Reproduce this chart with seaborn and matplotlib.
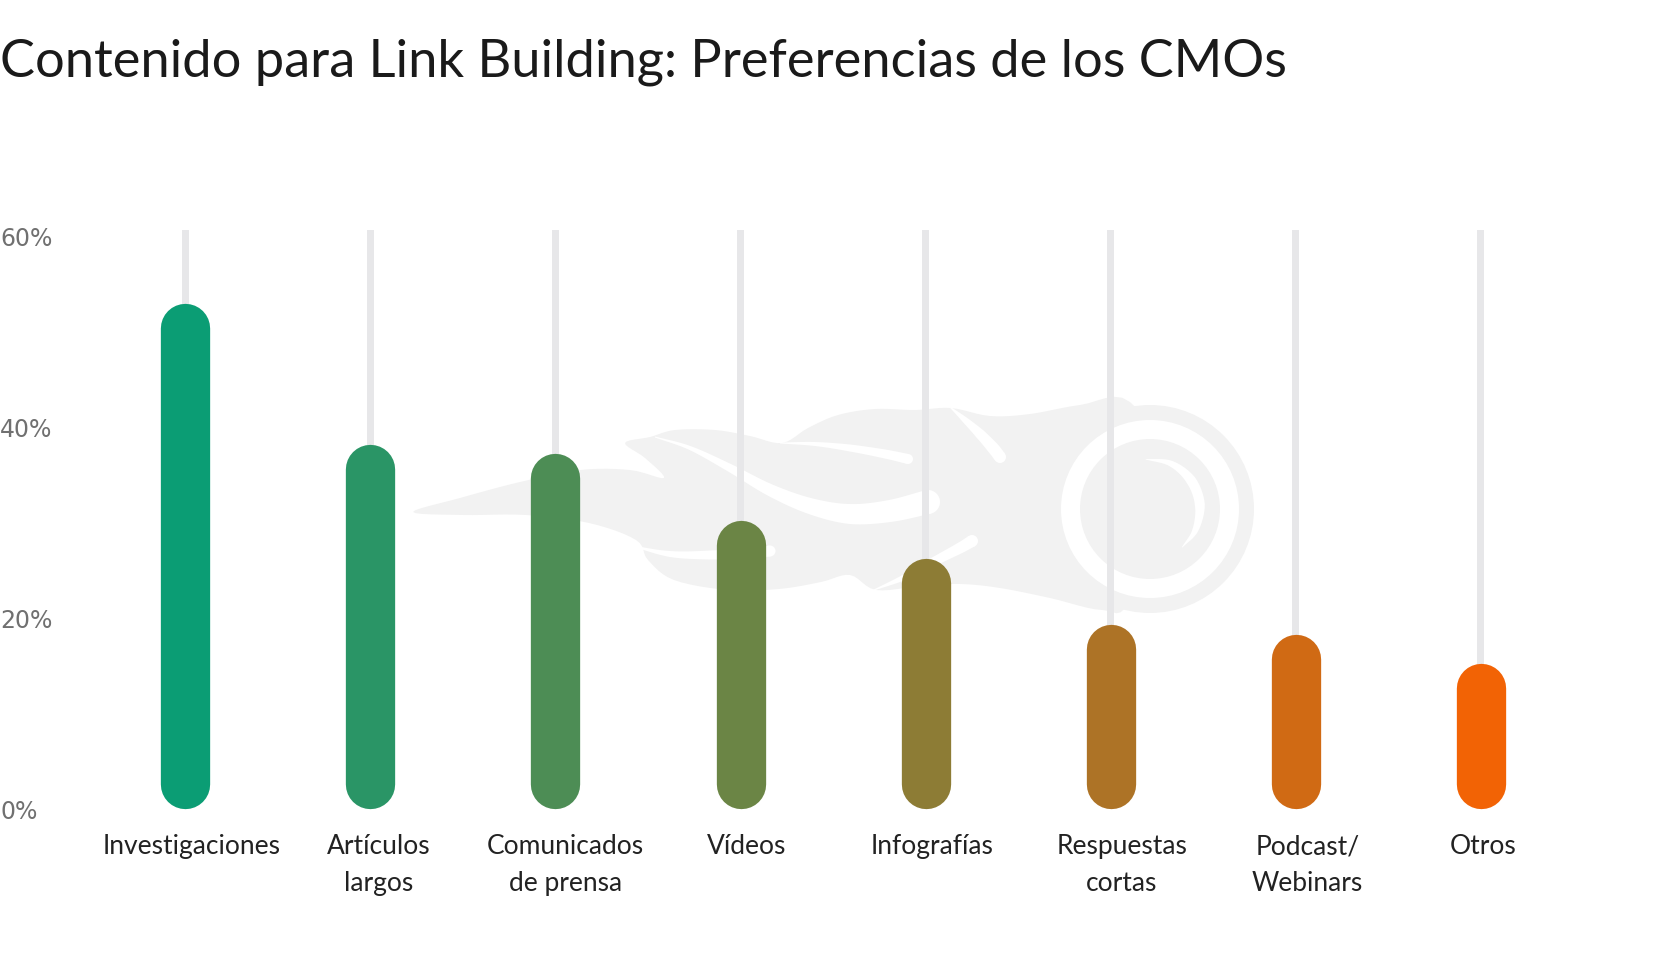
import numpy as np
import pandas as pd
import matplotlib
matplotlib.use("Agg")
import matplotlib.pyplot as plt
import matplotlib.transforms as mtransforms
from matplotlib.patches import Polygon, Circle
import seaborn as sns

# ---------------- data ----------------
categories = ["Investigaciones", "Artículos\nlargos", "Comunicados\nde prensa", "Vídeos",
              "Infografías", "Respuestas\ncortas", "Podcast/\nWebinars", "Otros"]
values = [53, 38.2, 37.2, 30.2, 26.2, 19.3, 18.3, 15.3]
colors = ["#0b9d74", "#2a9566", "#4d8d55", "#6b8545", "#8d7c35", "#ad7326", "#d06a14", "#f26305"]
track_top = [60.6] * len(categories)
yticks = [0, 20, 40, 60]
ytick_labels = ["0%", "20%", "40%", "60%"]
title = "Contenido para Link Building: Preferencias de los CMOs"

# small horizontal nudges of the category labels (pixels), layout only
label_dx = [6, 8, 10, 6, 6, 11, 12, 2]

# ---------------- style ----------------
sns.set_theme(style="white")
plt.rcParams["font.family"] = ["Lato", "DejaVu Sans"]

W, H = 1680, 960
fig = plt.figure(figsize=(W / 100, H / 100), dpi=100)
fig.patch.set_facecolor("white")
ax = fig.add_axes([0, 151 / H, 1, 609 / H])
ax.set_facecolor("white")

df = pd.DataFrame({"cat": categories, "val": values, "track": track_top})

# thin grey tracks
sns.barplot(data=df, x="cat", y="track", color="#e7e7e9", width=0.035, saturation=1,
            linewidth=0, ax=ax, zorder=1)
n_track = len(ax.patches)
# value bars (converted to capsules below)
sns.barplot(data=df, x="cat", y="val", hue="cat", palette=colors, width=0.27, saturation=1,
            linewidth=0, legend=False, ax=ax, zorder=2)

ax.set_xlim(-1.002, 8.077)
ax.set_ylim(0, 63.77)

px_per_y = fig.dpi * fig.get_figheight() * ax.get_position().height / (63.77 - 0)
bar_px = 49.3
r = (bar_px / 2) / px_per_y
for p in ax.patches[n_track:]:
    cx = p.get_x() + p.get_width() / 2
    h = p.get_height()
    fc = p.get_facecolor()
    p.set_visible(False)
    ax.plot([cx, cx], [r, h - r], color=fc, lw=bar_px * 72 / 100,
            solid_capstyle="round", zorder=3, clip_on=False)

# ---------------- watermark logo (decorative) ----------------
pxT = mtransforms.Affine2D().scale(1 / W, -1 / H).translate(0, 1) + fig.transFigure
LOGO = "#f2f2f2"


def cr_closed(points, n=6):
    P = np.asarray(points, float)
    m = len(P)
    out = []
    for i in range(m):
        p0, p1, p2, p3 = P[i - 1], P[i], P[(i + 1) % m], P[(i + 2) % m]
        for t in np.linspace(0, 1, n, endpoint=False):
            out.append(0.5 * (2 * p1 + (-p0 + p2) * t + (2 * p0 - 5 * p1 + 4 * p2 - p3) * t * t
                              + (-p0 + 3 * p1 - 3 * p2 + p3) * t ** 3))
    return np.array(out)


def cr_open(points, half, n=8):
    P = np.asarray(points, float)
    hw = np.asarray(half, float)
    P2 = np.vstack([2 * P[0] - P[1], P, 2 * P[-1] - P[-2]])
    pts, hws = [], []
    for i in range(1, len(P2) - 2):
        p0, p1, p2, p3 = P2[i - 1], P2[i], P2[i + 1], P2[i + 2]
        for t in np.linspace(0, 1, n, endpoint=False):
            pts.append(0.5 * (2 * p1 + (-p0 + p2) * t + (2 * p0 - 5 * p1 + 4 * p2 - p3) * t * t
                              + (-p0 + 3 * p1 - 3 * p2 + p3) * t ** 3))
            hws.append(hw[i - 1] + (hw[i] - hw[i - 1]) * t)
    pts.append(P[-1]); hws.append(hw[-1])
    return np.array(pts), np.array(hws)


def tapered(center, half, color, z, round_end=True):
    C, hw = cr_open(center, half)
    d = np.gradient(C, axis=0)
    nrm = np.stack([-d[:, 1], d[:, 0]], 1)
    nrm /= np.linalg.norm(nrm, axis=1, keepdims=True)
    poly = np.vstack([C + nrm * hw[:, None], (C - nrm * hw[:, None])[::-1]])
    ax.add_patch(Polygon(poly, closed=True, transform=pxT, fc=color, ec="none",
                         zorder=z, clip_on=False))
    if round_end:
        ax.add_patch(Circle(C[-1], hw[-1], transform=pxT, fc=color, ec="none",
                            zorder=z, clip_on=False))


sil = [(413, 512), (460, 498), (520, 482), (580, 470), (630, 470), (664, 478), (645, 458),
       (625, 443), (650, 437), (675, 430), (715, 430), (750, 436), (782, 443), (808, 428),
       (838, 415), (875, 409), (915, 410), (951, 408), (990, 416), (1030, 414), (1080, 405),
       (1130, 402), (1170, 480), (1130, 600), (1102, 610), (1050, 598), (1000, 588),
       (960, 584), (920, 586), (876, 590), (850, 575), (821, 582), (779, 589), (728, 590),
       (674, 580), (648, 560), (636, 540), (589, 523), (526, 515), (463, 515)]
ax.add_patch(Polygon(cr_closed(sil), closed=True, transform=pxT, fc=LOGO, ec="none",
                     zorder=0.2, clip_on=False))
ax.add_patch(Circle((1150, 509), 104, transform=pxT, fc=LOGO, ec="none", zorder=0.2, clip_on=False))
ax.add_patch(Circle((1150, 509), 89, transform=pxT, fc="white", ec="none", zorder=0.3, clip_on=False))
ax.add_patch(Circle((1150, 509), 70, transform=pxT, fc=LOGO, ec="none", zorder=0.35, clip_on=False))

tapered([(655, 437), (690, 448), (730, 468), (770, 490), (810, 506), (850, 514), (890, 511), (928, 502)],
        [0.5, 2, 4, 6, 8, 10, 11, 12], "white", 0.3)
tapered([(632, 546), (670, 554), (710, 555), (750, 553), (770, 551)],
        [0.5, 3, 4.5, 5.5, 5.5], "white", 0.3)
tapered([(780, 443), (815, 444), (850, 448), (885, 454), (908, 459)],
        [0.5, 2, 3.5, 4.5, 5], "white", 0.3)
tapered([(950, 407), (965, 420), (980, 434), (993, 448), (1000, 457)],
        [0.5, 3, 5, 6, 6], "white", 0.3)
tapered([(874, 590), (905, 577), (935, 561), (960, 548), (972, 541)],
        [0.5, 3, 4.5, 5.5, 6], "white", 0.3)
ang = np.deg2rad(np.array([95, 65, 35, 5, -25, -50]))
arc = [(1150 + 50 * np.cos(a), 509 - 50 * np.sin(a)) for a in ang]
tapered(arc, [0.3, 3, 5, 5, 3, 0.3], "white", 0.4, round_end=False)

# ---------------- axes cosmetics ----------------
sns.despine(ax=ax, left=True, bottom=True)
ax.set_xlabel("")
ax.set_ylabel("")
ax.set_yticks(yticks, ytick_labels)
ax.tick_params(axis="y", length=0, pad=0, labelsize=17, labelcolor="#707070")
yshift = mtransforms.ScaledTranslation(0, -3 / 100, fig.dpi_scale_trans)
for lbl in ax.get_yticklabels():
    lbl.set_ha("left")
    lbl.set_va("center")
    lbl.set_fontfamily(["DejaVu Sans"])
    lbl.set_transform(lbl.get_transform() + yshift)
ax.tick_params(axis="x", length=0, pad=18, labelsize=19, labelcolor="#222222")
for lbl, dx in zip(ax.get_xticklabels(), label_dx):
    lbl.set_linespacing(1.6)
    lbl.set_transform(lbl.get_transform()
                      + mtransforms.ScaledTranslation(dx / 100, 0, fig.dpi_scale_trans))

fig.text(0.0, 1 - 77 / H, title, ha="left", va="baseline", fontsize=37.7,
         color="#1a1a1a", family=["Lato", "DejaVu Sans"])

fig.savefig("out.png", dpi=100, facecolor="white")
